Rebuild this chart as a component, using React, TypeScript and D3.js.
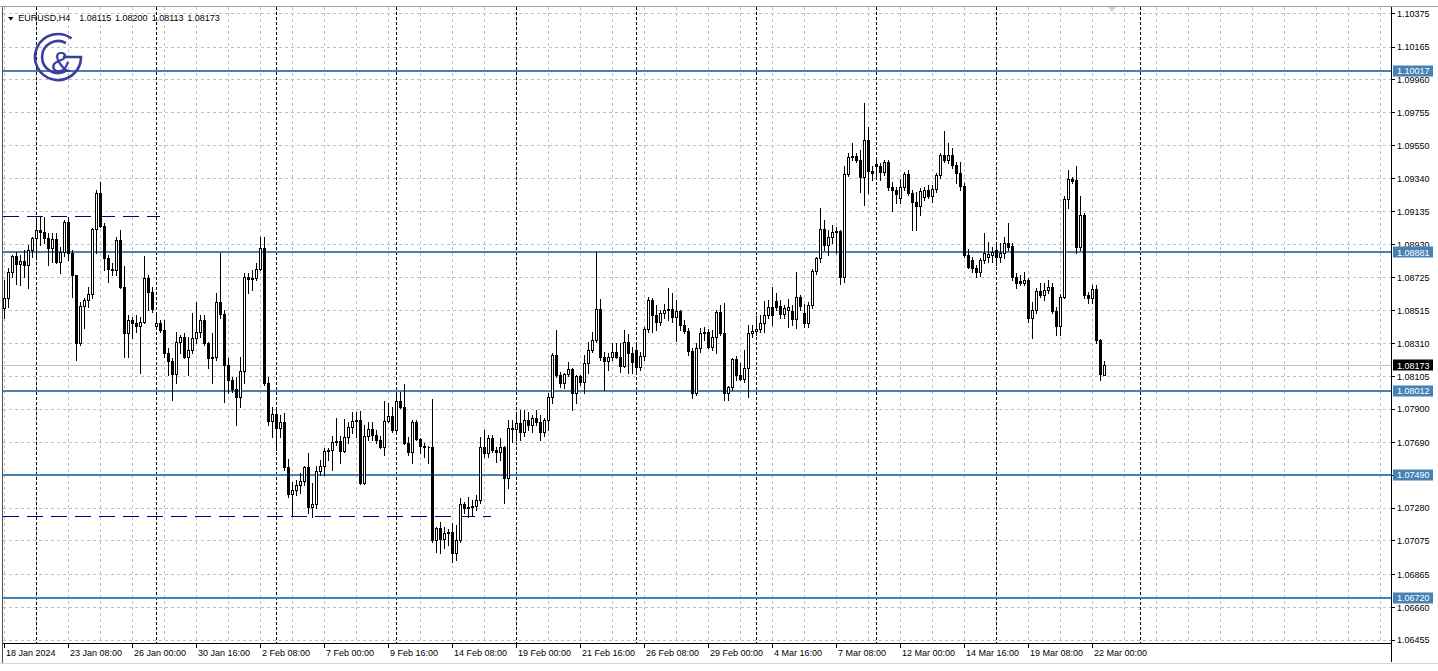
import React, { useEffect } from "react";
import * as d3 from "d3";

// ---- data (EURUSD H4 candles) ----
const opens = [
1.08532,1.08595,1.08757,1.08857,1.08808,1.08827,1.08802,1.08895,1.08970,1.09020,
1.09007,1.08970,1.08908,1.08964,1.08820,1.08882,1.09070,1.08876,1.08739,1.08313,
1.08544,1.08582,1.08620,1.09027,1.09252,1.09045,1.08845,1.08777,1.08770,1.08958,
1.08664,1.08376,1.08457,1.08438,1.08419,1.08444,1.08720,1.08632,1.08419,1.08438,
1.08395,1.08251,1.08201,1.08119,1.08319,1.08351,1.08226,1.08270,1.08345,1.08382,
1.08457,1.08313,1.08220,1.08226,1.08569,1.08495,1.08176,1.08082,1.08026,1.07975,
1.08138,1.08726,1.08714,1.08720,1.08777,1.08908,1.08063,1.07826,1.07869,1.07782,
1.07819,1.07537,1.07369,1.07394,1.07425,1.07450,1.07537,1.07287,1.07306,1.07513,
1.07543,1.07638,1.07644,1.07693,1.07700,1.07638,1.07725,1.07788,1.07826,1.07832,
1.07437,1.07731,1.07776,1.07738,1.07706,1.07662,1.07826,1.07856,1.07769,1.07951,
1.07913,1.07687,1.07631,1.07819,1.07713,1.07668,1.07662,1.07660,1.07081,1.07156,
1.07087,1.07124,1.07130,1.06999,1.07081,1.07306,1.07281,1.07287,1.07293,1.07331,
1.07662,1.07625,1.07719,1.07644,1.07631,1.07662,1.07469,1.07782,1.07776,1.07813,
1.07756,1.07832,1.07801,1.07844,1.07819,1.07756,1.07832,1.07975,1.08239,1.08113,
1.08063,1.08119,1.08151,1.08000,1.08106,1.08069,1.08188,1.08270,1.08332,1.08526,
1.08226,1.08201,1.08226,1.08257,1.08226,1.08169,1.08319,1.08251,1.08270,1.08163,
1.08232,1.08401,1.08582,1.08489,1.08444,1.08501,1.08520,1.08526,1.08476,1.08514,
1.08426,1.08389,1.08264,1.08000,1.08282,1.08376,1.08382,1.08288,1.08351,1.08507,
1.08376,1.08000,1.08038,1.08214,1.08113,1.08088,1.08157,1.08376,1.08389,1.08401,
1.08438,1.08489,1.08538,1.08576,1.08544,1.08495,1.08520,1.08514,1.08463,1.08601,
1.08501,1.08438,1.08551,1.08764,1.08845,1.09027,1.08927,1.08976,1.09007,1.09014,
1.08726,1.09371,1.09477,1.09483,1.09458,1.09352,1.09583,1.09390,1.09433,1.09420,
1.09383,1.09446,1.09289,1.09271,1.09221,1.09289,1.09371,1.09252,1.09195,1.09170,
1.09227,1.09271,1.09233,1.09277,1.09365,1.09490,1.09458,1.09490,1.09427,1.09377,
1.09296,1.08864,1.08833,1.08783,1.08757,1.08833,1.08851,1.08864,1.08895,1.08851,
1.08876,1.08939,1.08920,1.08726,1.08702,1.08689,1.08708,1.08470,1.08520,1.08639,
1.08614,1.08645,1.08664,1.08514,1.08419,1.08601,1.09214,1.09339,1.09333,1.08914,
1.09115,1.08614,1.08595,1.08651,1.08332,1.08115];

const highs = [
1.08708,1.08783,1.08864,1.08882,1.08864,1.08895,1.08927,1.08976,1.09102,1.09102,
1.09102,1.09001,1.09001,1.09001,1.08914,1.09083,1.09102,1.08895,1.08739,1.08569,
1.08595,1.08664,1.09033,1.09271,1.09320,1.09064,1.08864,1.08814,1.08976,1.09020,
1.08795,1.08489,1.08476,1.08489,1.08476,1.08857,1.08739,1.08664,1.08489,1.08457,
1.08457,1.08282,1.08220,1.08382,1.08364,1.08376,1.08351,1.08501,1.08569,1.08489,
1.08489,1.08319,1.08376,1.08626,1.08876,1.08520,1.08220,1.08100,1.08100,1.08226,
1.08751,1.08751,1.08770,1.08814,1.08976,1.08976,1.08100,1.07913,1.07894,1.07863,
1.07875,1.07588,1.07443,1.07456,1.07500,1.07543,1.07625,1.07437,1.07543,1.07581,
1.07656,1.07656,1.07731,1.07844,1.07731,1.07838,1.07819,1.07881,1.07881,1.07888,
1.07801,1.07819,1.07819,1.07769,1.07731,1.07951,1.07938,1.07913,1.07994,1.08006,
1.08057,1.07725,1.07832,1.07832,1.07719,1.07687,1.07668,1.07963,1.07162,1.07193,
1.07162,1.07150,1.07187,1.07175,1.07344,1.07318,1.07350,1.07331,1.07363,1.07725,
1.07769,1.07738,1.07738,1.07662,1.07719,1.07669,1.07832,1.07832,1.07881,1.07894,
1.07894,1.07881,1.07863,1.07894,1.07863,1.07844,1.08000,1.08251,1.08395,1.08131,
1.08125,1.08194,1.08157,1.08113,1.08113,1.08239,1.08319,1.08382,1.08882,1.08588,
1.08257,1.08251,1.08313,1.08313,1.08313,1.08395,1.08370,1.08288,1.08313,1.08257,
1.08413,1.08601,1.08595,1.08551,1.08520,1.08557,1.08658,1.08626,1.08582,1.08520,
1.08457,1.08407,1.08282,1.08313,1.08407,1.08413,1.08401,1.08395,1.08520,1.08551,
1.08563,1.08044,1.08220,1.08232,1.08188,1.08270,1.08426,1.08426,1.08482,1.08489,
1.08576,1.08582,1.08664,1.08626,1.08582,1.08551,1.08588,1.08551,1.08757,1.08614,
1.08557,1.08569,1.08777,1.08851,1.09158,1.09083,1.09020,1.09052,1.09039,1.09020,
1.09420,1.09502,1.09564,1.09502,1.09521,1.09815,1.09665,1.09420,1.09458,1.09439,
1.09458,1.09458,1.09320,1.09289,1.09339,1.09383,1.09396,1.09271,1.09258,1.09283,
1.09289,1.09302,1.09302,1.09377,1.09502,1.09640,1.09564,1.09533,1.09446,1.09446,
1.09314,1.08902,1.08851,1.08802,1.08845,1.09001,1.08945,1.08914,1.08945,1.08939,
1.08976,1.09064,1.08939,1.08751,1.08739,1.08757,1.08720,1.08569,1.08658,1.08689,
1.08689,1.08708,1.08689,1.08538,1.08620,1.09233,1.09396,1.09352,1.09420,1.09233,
1.09127,1.08632,1.08677,1.08677,1.08340,1.08200];

const lows = [
1.08470,1.08538,1.08726,1.08683,1.08677,1.08726,1.08658,1.08851,1.08857,1.08927,
1.08939,1.08802,1.08820,1.08814,1.08751,1.08857,1.08833,1.08601,1.08207,1.08301,
1.08407,1.08538,1.08595,1.08876,1.09039,1.08770,1.08695,1.08739,1.08739,1.08658,
1.08226,1.08226,1.08345,1.08382,1.08125,1.08438,1.08520,1.08507,1.08407,1.08382,
1.08226,1.08113,1.07957,1.08063,1.08251,1.08220,1.08113,1.08251,1.08313,1.08351,
1.08301,1.08157,1.08063,1.08207,1.08470,1.07944,1.08000,1.08006,1.07801,1.07913,
1.08063,1.08626,1.08645,1.08708,1.08770,1.08051,1.07801,1.07725,1.07644,1.07725,
1.07519,1.07350,1.07230,1.07363,1.07375,1.07425,1.07249,1.07224,1.07281,1.07488,
1.07488,1.07581,1.07519,1.07675,1.07562,1.07631,1.07687,1.07750,1.07725,1.07431,
1.07431,1.07706,1.07706,1.07687,1.07656,1.07613,1.07819,1.07756,1.07756,1.07907,
1.07681,1.07613,1.07562,1.07706,1.07625,1.07600,1.07562,1.07068,1.07005,1.06999,
1.07031,1.07050,1.06943,1.06956,1.07068,1.07249,1.07224,1.07237,1.07268,1.07312,
1.07600,1.07600,1.07631,1.07568,1.07581,1.07312,1.07406,1.07693,1.07706,1.07706,
1.07731,1.07769,1.07756,1.07801,1.07706,1.07731,1.07769,1.07938,1.08100,1.08038,
1.08032,1.08106,1.07894,1.07938,1.08051,1.08000,1.08125,1.08257,1.08319,1.08207,
1.08019,1.08144,1.08207,1.08220,1.08131,1.08163,1.08125,1.08125,1.08125,1.08144,
1.08207,1.08382,1.08382,1.08395,1.08426,1.08470,1.08457,1.08444,1.08326,1.08395,
1.08376,1.08239,1.07969,1.07988,1.08257,1.08332,1.08282,1.08270,1.08251,1.08364,
1.07957,1.07957,1.08019,1.08082,1.08082,1.08069,1.07975,1.08351,1.08364,1.08382,
1.08382,1.08470,1.08426,1.08520,1.08470,1.08470,1.08413,1.08426,1.08407,1.08520,
1.08413,1.08413,1.08532,1.08745,1.08820,1.08895,1.08864,1.08939,1.08876,1.08683,
1.08695,1.09358,1.09458,1.09446,1.09258,1.09177,1.09252,1.09333,1.09352,1.09333,
1.09365,1.09271,1.09140,1.09189,1.09189,1.09271,1.09240,1.09020,1.09020,1.09115,
1.09208,1.09221,1.09195,1.09258,1.09346,1.09446,1.09439,1.09408,1.09314,1.09271,
1.08851,1.08783,1.08757,1.08726,1.08732,1.08814,1.08820,1.08820,1.08802,1.08820,
1.08845,1.08895,1.08708,1.08658,1.08677,1.08677,1.08444,1.08345,1.08501,1.08601,
1.08582,1.08626,1.08501,1.08364,1.08364,1.08595,1.09158,1.09314,1.08876,1.08895,
1.08595,1.08563,1.08563,1.08313,1.08082,1.08113];

const closes = [
1.08595,1.08757,1.08857,1.08808,1.08827,1.08802,1.08895,1.08970,1.09020,1.09007,
1.08970,1.08908,1.08964,1.08820,1.08882,1.09070,1.08876,1.08739,1.08313,1.08544,
1.08582,1.08620,1.09027,1.09252,1.09045,1.08845,1.08777,1.08770,1.08958,1.08664,
1.08376,1.08457,1.08438,1.08419,1.08444,1.08720,1.08632,1.08526,1.08438,1.08395,
1.08251,1.08201,1.08119,1.08319,1.08351,1.08226,1.08270,1.08345,1.08382,1.08457,
1.08313,1.08220,1.08226,1.08569,1.08495,1.08176,1.08082,1.08026,1.07975,1.08138,
1.08726,1.08714,1.08720,1.08777,1.08908,1.08063,1.07826,1.07869,1.07782,1.07819,
1.07537,1.07369,1.07394,1.07425,1.07450,1.07537,1.07287,1.07306,1.07513,1.07543,
1.07638,1.07644,1.07693,1.07700,1.07638,1.07725,1.07788,1.07826,1.07832,1.07437,
1.07731,1.07776,1.07738,1.07706,1.07662,1.07826,1.07856,1.07769,1.07951,1.07913,
1.07687,1.07631,1.07819,1.07713,1.07668,1.07662,1.07660,1.07081,1.07156,1.07087,
1.07124,1.07130,1.06999,1.07081,1.07306,1.07281,1.07287,1.07293,1.07331,1.07662,
1.07625,1.07719,1.07644,1.07631,1.07662,1.07469,1.07782,1.07776,1.07813,1.07756,
1.07832,1.07801,1.07844,1.07819,1.07756,1.07832,1.07975,1.08239,1.08113,1.08063,
1.08119,1.08151,1.08000,1.08106,1.08069,1.08188,1.08270,1.08332,1.08526,1.08226,
1.08201,1.08226,1.08257,1.08226,1.08169,1.08319,1.08251,1.08194,1.08163,1.08232,
1.08401,1.08582,1.08489,1.08444,1.08501,1.08520,1.08526,1.08476,1.08514,1.08426,
1.08389,1.08264,1.08000,1.08282,1.08376,1.08382,1.08288,1.08351,1.08507,1.08376,
1.08000,1.08038,1.08214,1.08113,1.08088,1.08157,1.08376,1.08389,1.08401,1.08438,
1.08489,1.08538,1.08489,1.08538,1.08495,1.08532,1.08538,1.08463,1.08601,1.08544,
1.08438,1.08551,1.08764,1.08845,1.09027,1.08927,1.08976,1.09007,1.09014,1.08726,
1.09371,1.09477,1.09483,1.09458,1.09352,1.09583,1.09390,1.09377,1.09420,1.09383,
1.09446,1.09289,1.09271,1.09246,1.09289,1.09371,1.09252,1.09195,1.09170,1.09265,
1.09271,1.09233,1.09277,1.09365,1.09490,1.09458,1.09490,1.09427,1.09377,1.09296,
1.08864,1.08789,1.08783,1.08757,1.08833,1.08876,1.08870,1.08882,1.08851,1.08876,
1.08939,1.08914,1.08726,1.08689,1.08689,1.08708,1.08470,1.08520,1.08639,1.08614,
1.08645,1.08664,1.08514,1.08419,1.08601,1.09214,1.09339,1.09327,1.08914,1.09115,
1.08614,1.08595,1.08651,1.08332,1.08119,1.08173];

const priceTicks = [1.10375,1.10165,1.09960,1.09755,1.09550,1.09340,1.09135,1.08930,1.08725,1.08515,
1.08310,1.08105,1.07900,1.07690,1.07485,1.07280,1.07075,1.06865,1.06660,1.06455];
const levelLines = [1.10017, 1.08881, 1.08012, 1.07490, 1.06720];
const lastPrice = 1.08173;
const timeLabels = ["18 Jan 2024","23 Jan 08:00","26 Jan 00:00","30 Jan 16:00","2 Feb 08:00","7 Feb 00:00",
"9 Feb 16:00","14 Feb 08:00","19 Feb 00:00","21 Feb 16:00","26 Feb 08:00","29 Feb 00:00","4 Mar 16:00",
"7 Mar 08:00","12 Mar 00:00","14 Mar 16:00","19 Mar 08:00","22 Mar 00:00"];
const timeLabelBars = [0,16,32,48,64,80,96,112,128,144,160,176,192,208,224,240,256,272];
const weekSeparatorBars = [8,38,68,98,128,158,188,218,248,284];
const dashedLevels = [
  { price: 1.09102, fromBar: -0.4, toBar: 38.9 },
  { price: 1.07230, fromBar: -0.4, toBar: 121.7 },
];
const header = { symbol: "EURUSD,H4", ohlc: ["1.08115", "1.08200", "1.08113", "1.08173"] };

const FONT = "'Liberation Sans', Arial, sans-serif";

export default function App() {
  useEffect(() => {
    document.body.style.margin = "0";
  }, []);

  const W = 1438, H = 671;
  const left = 2.5, top = 6.5, right = 1391.5, bottom = 643.5;
  const x = d3.scaleLinear().domain([0, 1]).range([4.5, 8.5]);
  const y = d3.scaleLinear().domain([1.06455, 1.10375]).range([640, 13.5]);
  const snap = (v: number) => Math.round(v - 0.5) + 0.5;

  const gridX = d3.range(0, 44).map((k) => x(k * 8));

  const candles = opens.map((o, i) => {
    const h = highs[i], l = lows[i], c = closes[i];
    const cx = x(i);
    const bull = c >= o;
    const t = Math.round(y(Math.max(o, c)));
    const b = Math.round(y(Math.min(o, c)));
    const hy = Math.round(y(h));
    const ly = Math.round(y(l));
    let wick = "";
    if (hy < t) wick += `M${cx},${hy}V${t}`;
    if (ly > b) wick += `M${cx},${b + 1}V${ly + 1}`;
    const body = `M${cx - 1},${t + 0.5}H${cx + 1}V${b + 0.5}H${cx - 1}Z`;
    return { wick, body, bull };
  });

  const navy = "#000080";
  const steel = "#4682b4";
  const logo = "#3a3f9e";

  return (
    <svg width={W} height={H} style={{ display: "block", position: "absolute", left: 0, top: 0, background: "#fff" }}>
      <rect x={0} y={0} width={W} height={H} fill="#ffffff" />
      <g shapeRendering="crispEdges">
        {/* horizontal grid */}
        {priceTicks.map((p, i) => (
          <line key={"hg" + i} x1={left} x2={right} y1={snap(y(p))} y2={snap(y(p))}
            stroke="#c0c0c0" strokeWidth={1} strokeDasharray="3,3" />
        ))}
        {/* vertical grid */}
        {gridX.map((gx, i) => (
          <line key={"vg" + i} x1={gx} x2={gx} y1={top} y2={bottom}
            stroke="#c0c0c0" strokeWidth={1} strokeDasharray="3,3" />
        ))}
        {/* week separators */}
        {weekSeparatorBars.map((b, i) => (
          <line key={"ws" + i} x1={x(b)} x2={x(b)} y1={top} y2={bottom}
            stroke="#000" strokeWidth={1} strokeDasharray="3,2" />
        ))}
        {/* bid line */}
        <line x1={left} x2={right} y1={snap(y(lastPrice))} y2={snap(y(lastPrice))} stroke="#c0c0c0" strokeWidth={1} />
        {/* level lines */}
        {levelLines.map((p, i) => (
          <line key={"lv" + i} x1={left} x2={right} y1={Math.round(y(p))} y2={Math.round(y(p))}
            stroke={steel} strokeWidth={2} />
        ))}
        {/* dashed trend levels */}
        {dashedLevels.map((d, i) => (
          <line key={"dl" + i} x1={x(d.fromBar)} x2={x(d.toBar)} y1={snap(y(d.price))} y2={snap(y(d.price))}
            stroke={navy} strokeWidth={1} strokeDasharray="16,8" />
        ))}
        {/* candles */}
        {candles.map((c, i) => (
          <g key={"c" + i}>
            {c.wick && <path d={c.wick} stroke="#000" strokeWidth={1} fill="none" />}
            <path d={c.body} stroke="#000" strokeWidth={1} fill={c.bull ? "#fff" : "#000"} />
          </g>
        ))}
        {/* frame */}
        <line x1={0} x2={W} y1={top} y2={top} stroke="#a0a0a0" strokeWidth={1} />
        <line x1={left} x2={left} y1={top} y2={663.5} stroke="#505050" strokeWidth={1} />
        <line x1={right} x2={right} y1={top} y2={662} stroke="#000" strokeWidth={1} />
        <line x1={left} x2={right} y1={bottom} y2={bottom} stroke="#000" strokeWidth={1} />
        <line x1={0} x2={W} y1={663.5} y2={663.5} stroke="#d8d8d8" strokeWidth={1} />
        {/* price axis ticks */}
        {priceTicks.map((p, i) => (
          <line key={"pt" + i} x1={right} x2={right + 3} y1={snap(y(p))} y2={snap(y(p))} stroke="#000" />
        ))}
        {/* time axis ticks */}
        {timeLabelBars.map((b, i) => (
          <line key={"tt" + i} x1={x(b)} x2={x(b)} y1={bottom} y2={bottom + 4} stroke="#000" />
        ))}
      </g>

      {/* price labels */}
      <g fontFamily={FONT} fontSize={9} fill="#000">
        {priceTicks.map((p, i) => (
          <text key={"pl" + i} x={1397} y={y(p) + 3.3}>{p.toFixed(5)}</text>
        ))}
      </g>
      {/* level labels */}
      <g fontFamily={FONT} fontSize={9}>
        {levelLines.map((p, i) => (
          <g key={"ll" + i}>
            <rect x={1393} y={Math.round(y(p)) - 5.5} width={40} height={11} fill={steel} />
            <text x={1397} y={y(p) + 3.3} fill="#fff">{p.toFixed(5)}</text>
          </g>
        ))}
        <rect x={1393} y={Math.round(y(lastPrice)) - 5.5} width={40} height={11} fill="#000" />
        <text x={1397} y={y(lastPrice) + 3.3} fill="#fff">{lastPrice.toFixed(5)}</text>
      </g>

      {/* time labels */}
      <g fontFamily={FONT} fontSize={9} fill="#000">
        {timeLabels.map((t, i) => (
          <text key={"tl" + i} x={x(timeLabelBars[i]) + 1.5} y={656}>{t}</text>
        ))}
      </g>

      {/* header */}
      <path d="M8,17 L13.5,17 L10.75,20.5 Z" fill="#000" />
      <g fontFamily={FONT} fontSize={9} fill="#000">
        <text x={18.3} y={20.5}>{header.symbol}</text>
        {header.ohlc.map((v, i) => (
          <text key={"h" + i} x={[79.3, 115, 151.7, 187.3][i]} y={20.5}>{v}</text>
        ))}
      </g>

      {/* shift marker */}
      <path d="M1108,7 L1116,7 L1112,12 Z" fill="#d0d0d0" />

      {/* logo */}
      <g fill="none" stroke={logo} strokeWidth={2.6} strokeLinecap="butt">
        <path d="M71.5,38.4 A23,23 0 1 0 81,57 L63,57" />
        <path d="M66,43.1 A16,16 0 1 0 66,70.9" />
      </g>
      <text x={61} y={72} textAnchor="middle" fontFamily={FONT} fontSize={30} fill={logo}>&amp;</text>
    </svg>
  );
}
